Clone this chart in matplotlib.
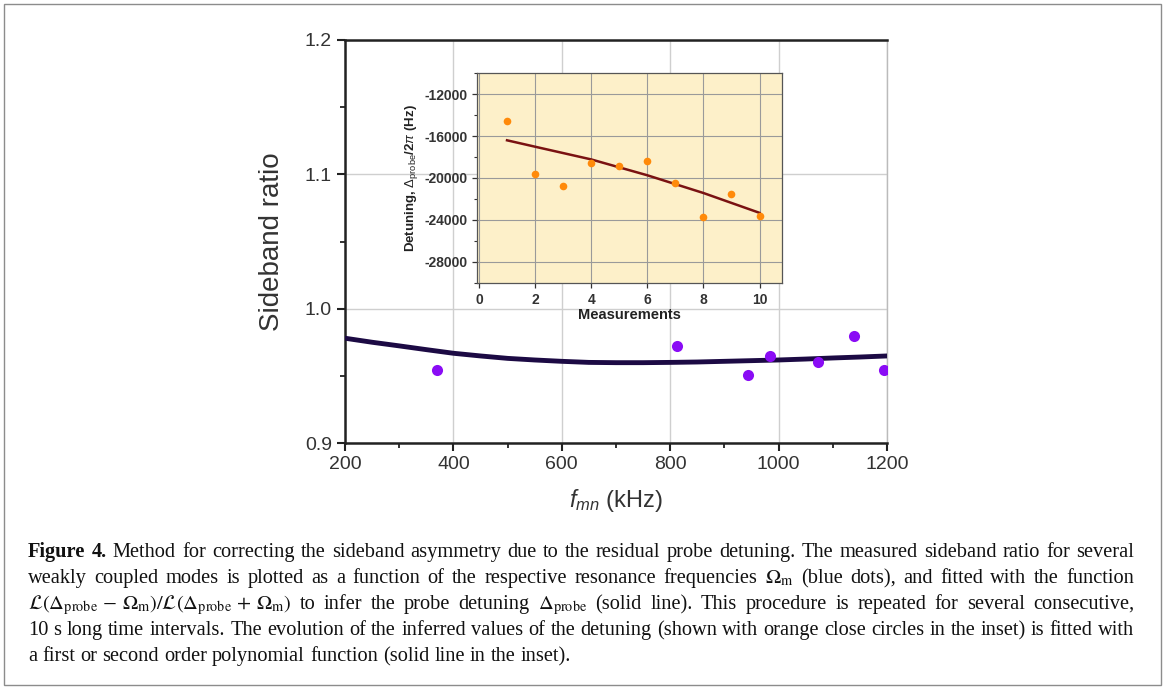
# -*- coding: utf-8 -*-
# Figure 4 : rapport des bandes laterales en fonction de f_mn, avec en encart
# l'evolution du desaccord de la sonde au fil des mesures.

import matplotlib
matplotlib.use("Agg")
import matplotlib.pyplot as plt
from matplotlib.patches import Rectangle
from matplotlib.ticker import MultipleLocator, FormatStrFormatter

plt.rcParams["font.family"] = ["Liberation Sans", "DejaVu Sans"]
plt.rcParams["mathtext.fontset"] = "custom"
plt.rcParams["mathtext.rm"] = "Liberation Sans"
plt.rcParams["mathtext.it"] = "Liberation Sans:italic"
plt.rcParams["mathtext.bf"] = "Liberation Sans:bold"
plt.rcParams["axes.unicode_minus"] = False

# --- donnees du graphe principal ---
f_mesure = [369, 812, 943, 984, 1072, 1140, 1194]
ratio_mesure = [0.954, 0.9725, 0.9505, 0.965, 0.960, 0.980, 0.9545]

f_ajust = [200, 250, 300, 350, 400, 450, 500, 550, 600, 650, 700,
           750, 800, 850, 900, 950, 1000, 1050, 1100, 1150, 1200]
ratio_ajust = [0.978, 0.975, 0.9723, 0.9695, 0.9668, 0.9648, 0.963, 0.9618,
               0.9608, 0.960, 0.9598, 0.9598, 0.960, 0.9603, 0.9608, 0.9613,
               0.9618, 0.9625, 0.9633, 0.964, 0.9648]

# --- donnees de l'encart ---
mesures = [1, 2, 3, 4, 5, 6, 7, 8, 9, 10]
desaccord = [-14590, -19610, -20790, -18550, -18810, -18390, -20500,
             -23700, -21520, -23600]

mesures_ajust = [1, 2, 4, 6, 8, 10]
desaccord_ajust = [-16410, -17020, -18230, -19740, -21430, -23320]

# --- legende de la figure (les deux premiers mots en gras) ---
# pas d'espace dans les morceaux mathematiques : la ligne est coupee aux espaces
legende = [
    "Figure 4. Method for correcting the sideband asymmetry due to the residual probe detuning. "
    "The measured sideband ratio for several",
    r"weakly coupled modes is plotted as a function of the respective resonance frequencies "
    r"$\Omega_{\mathrm{m}}$ (blue dots), and fitted with the function",
    r"$\mathcal{L}(\Delta_{\mathrm{probe}}\,-\,\Omega_{\mathrm{m}})/\mathcal{L}(\Delta_{\mathrm{probe}}\,+\,\Omega_{\mathrm{m}})$ "
    r"to infer the probe detuning $\Delta_{\mathrm{probe}}$ (solid line). This procedure is repeated for several consecutive,",
    r"10 s long time intervals. The evolution of the inferred values of the detuning "
    r"(shown with orange close circles in the inset) is fitted with",
    r"a first or second order polynomial function (solid line in the inset).",
]

W, H = 1165, 688


def ecrire_legende(fig, lignes, x0, x1, y_base):
    # place les mots un par un : taille commune choisie pour que la ligne
    # la plus longue tienne entre x0 et x1, puis justification des lignes
    renderer = fig.canvas.get_renderer()
    taille0 = 14.0
    toutes = []
    for i, texte in enumerate(lignes):
        mots = texte.split(" ")
        objets = []
        for k, mot in enumerate(mots):
            gras = (i == 0 and k < 2)
            t = fig.text(0, 1 - y_base[i] / H, mot, fontsize=taille0,
                         va="baseline", ha="left",
                         family=["Liberation Serif", "DejaVu Serif"],
                         fontweight="bold" if gras else "normal",
                         math_fontfamily="stix", color="#111111")
            objets.append(t)
        toutes.append(objets)

    facteur = 10.0
    for objets in toutes[:-1]:
        somme = sum(t.get_window_extent(renderer).width for t in objets)
        naturel = somme + (len(objets) - 1) * 0.25 * taille0 * 100 / 72
        facteur = min(facteur, (x1 - x0) / naturel)
    taille = taille0 * facteur

    for i, objets in enumerate(toutes):
        for t in objets:
            t.set_fontsize(taille)
        largeurs = [t.get_window_extent(renderer).width for t in objets]
        if i < len(toutes) - 1:
            espace = (x1 - x0 - sum(largeurs)) / (len(objets) - 1)
        else:
            espace = 0.25 * taille * 100 / 72
        x = x0
        for t, l in zip(objets, largeurs):
            t.set_x(x / W)
            x = x + l + espace


def main():
    fig = plt.figure(figsize=(W / 100, H / 100), dpi=100)

    # cadre autour de toute la figure
    fig.patches.append(Rectangle((4 / W, 3 / H), 1157 / W, 681 / H,
                                 transform=fig.transFigure, fill=False,
                                 edgecolor="#8c8c8c", linewidth=1.0))

    # graphe principal
    ax = fig.add_axes([345 / W, 1 - 443 / H, 542 / W, 403 / H])
    ax.plot(f_ajust, ratio_ajust, "-", color="#1c0a44", linewidth=3.5, zorder=3)
    ax.plot(f_mesure, ratio_mesure, "o", color="#8a0cf5", markersize=8,
            markeredgewidth=0, zorder=4)
    ax.set_xlim(200, 1200)
    ax.set_ylim(0.9, 1.2)
    ax.xaxis.set_major_locator(MultipleLocator(200))
    ax.xaxis.set_minor_locator(MultipleLocator(100))
    ax.yaxis.set_major_locator(MultipleLocator(0.1))
    ax.yaxis.set_minor_locator(MultipleLocator(0.05))
    ax.yaxis.set_major_formatter(FormatStrFormatter("%.1f"))
    ax.grid(True, which="major", color="#cfcfcf", linewidth=1.0)
    ax.set_axisbelow(True)
    for cote in ["left", "bottom", "top"]:
        ax.spines[cote].set_linewidth(1.8)
        ax.spines[cote].set_color("#222222")
    ax.spines["right"].set_linewidth(1.0)
    ax.spines["right"].set_color("#bbbbbb")
    ax.tick_params(which="major", direction="out", length=6, width=1.5,
                   labelsize=14, colors="#222222", labelcolor="#333333")
    ax.tick_params(which="minor", direction="out", length=3.5, width=1.3,
                   colors="#222222")
    ax.tick_params(top=False, right=False, which="both")
    ax.set_ylabel("Sideband ratio", fontsize=20, color="#333333", labelpad=14)
    ax.set_xlabel(r"$f_{mn}$ (kHz)", fontsize=17, color="#333333", labelpad=10)

    # encart
    axi = fig.add_axes([477 / W, 1 - 283 / H, 305 / W, 210 / H])
    axi.set_facecolor("#fdf0c9")
    axi.plot(mesures_ajust, desaccord_ajust, "-", color="#7a1212",
             linewidth=1.8, zorder=3)
    axi.plot(mesures, desaccord, "o", color="#ff8a0a", markersize=5.5,
             markeredgewidth=0, zorder=4)
    axi.set_xlim(-0.07, 10.8)
    axi.set_ylim(-30000, -10000)
    axi.xaxis.set_major_locator(MultipleLocator(2))
    axi.set_yticks([-28000, -24000, -20000, -16000, -12000])
    axi.yaxis.set_minor_locator(MultipleLocator(2000))
    axi.grid(True, which="major", color="#9a9a9a", linewidth=0.8)
    axi.set_axisbelow(True)
    for cote in axi.spines:
        axi.spines[cote].set_linewidth(0.9)
        axi.spines[cote].set_color("#555555")
    axi.tick_params(which="major", direction="out", length=3.5, width=0.9,
                    labelsize=10, colors="#333333")
    axi.tick_params(which="minor", direction="out", length=2, width=0.8,
                    colors="#333333")
    for lab in axi.get_xticklabels() + axi.get_yticklabels():
        lab.set_fontweight("bold")
    axi.set_xlabel("Measurements", fontsize=10.5, fontweight="bold",
                   color="#222222", labelpad=1)
    axi.set_ylabel(r"Detuning, $\Delta_{\rm probe}$/2$\pi$ (Hz)", fontsize=9.5,
                   fontweight="bold", color="#222222", labelpad=3)

    # legende sous le graphe, justifiee sauf la derniere ligne
    ecrire_legende(fig, legende, 28, 1134, [557, 583, 609, 635, 661])

    fig.savefig("out.png", dpi=100)


if __name__ == "__main__":
    main()
